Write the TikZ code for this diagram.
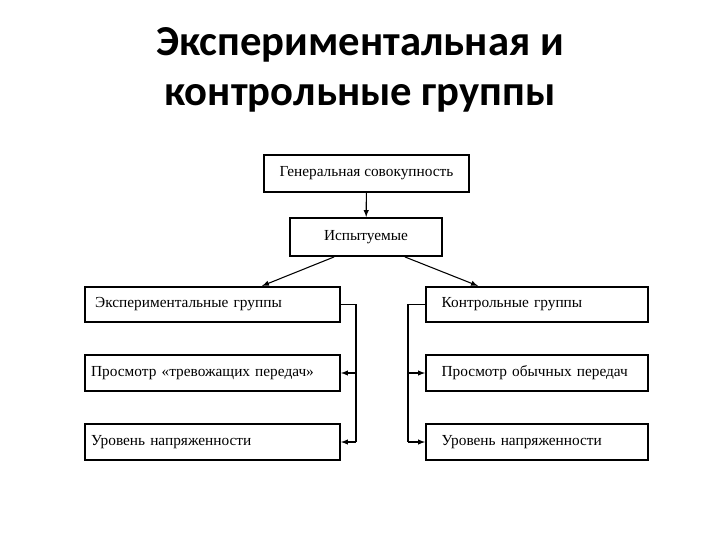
\documentclass[tikz,border=0pt]{standalone}
\usepackage{fontspec}
\setmainfont{Liberation Serif}
\newfontfamily\titlefont{Carlito}
\begin{document}
\begin{tikzpicture}[x=0.75pt,y=-0.75pt,
  box/.style={draw,line width=1.4pt,inner sep=0pt,font=\fontsize{11.5}{13}\selectfont},
  arr/.style={-latex,line width=0.8pt}]
\useasboundingbox (0,0) rectangle (720,540);
\node[font=\titlefont\bfseries\fontsize{32}{37.5}\selectfont,align=center] (t) at (360,70) {Экспериментальная и\\контрольные группы};
\node[box,minimum width=153.75pt,minimum height=27.75pt] (g) at (366.5,173.5) {Генеральная совокупность};
\node[box,minimum width=114pt,minimum height=28.5pt] (i) at (366,237) {Испытуемые};
\tikzset{lb/.style={box,minimum width=191.25pt,minimum height=26.5pt,text width=182pt,align=left},
 rb/.style={box,minimum width=166.5pt,minimum height=26.5pt,text width=155pt,align=left}}
\node[lb] (l1) at (212.5,304.5) {\hspace{3pt}Экспериментальные группы};
\node[lb] (l2) at (212.5,373) {Просмотр «тревожащих передач»};
\node[lb] (l3) at (212.5,442) {Уровень напряженности};
\node[rb] (r1) at (537,304.5) {\hspace{6pt}Контрольные группы};
\node[rb] (r2) at (537,373) {\hspace{6pt}Просмотр обычных передач};
\node[rb] (r3) at (537,442) {\hspace{6pt}Уровень напряженности};
\draw[arr] (g) -- (i);
\draw[arr] (i.south west) ++(45,0) coordinate (ia) -- (l1.north -| 262,0);
\draw[arr] (i.south east) ++(-38,0) coordinate (ib) -- (r1.north -| 478,0);
\coordinate (lx) at (356,0);
\coordinate (rx) at (408,0);
\draw[line width=0.8pt] (l1.east) -- (l1.east -| lx) -- (l3.east -| lx);
\draw[arr] (l2.east -| lx) -- (l2.east);
\draw[arr] (l3.east -| lx) -- (l3.east);
\draw[line width=0.8pt] (r1.west) -- (r1.west -| rx) -- (r3.west -| rx);
\draw[arr] (r2.west -| rx) -- (r2.west);
\draw[arr] (r3.west -| rx) -- (r3.west);
\end{tikzpicture}
\end{document}
